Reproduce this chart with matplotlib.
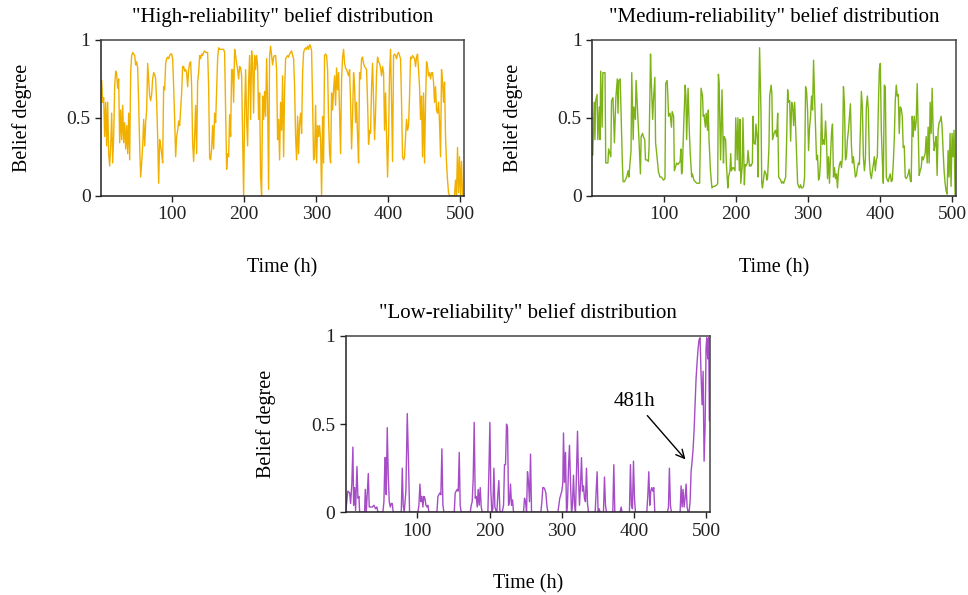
import numpy as np
import matplotlib
matplotlib.use("Agg")
import matplotlib.pyplot as plt

plt.rcParams['font.family'] = ['Liberation Serif', 'DejaVu Serif']

# "High-reliability" belief degree, read every ~1.4 h from the chart
high_belief = [
    0.74, 0.60, 0.63, 0.38, 0.60, 0.32, 0.60, 0.27, 0.19, 0.32, 0.53, 0.21, 0.38, 0.70, 0.80, 0.78,
    0.69, 0.75, 0.34, 0.55, 0.36, 0.58, 0.34, 0.47, 0.30, 0.45, 0.27, 0.53, 0.23, 0.79, 0.90, 0.92,
    0.91, 0.90, 0.84, 0.86, 0.82, 0.60, 0.32, 0.12, 0.21, 0.32, 0.49, 0.32, 0.47, 0.55, 0.85, 0.75,
    0.64, 0.61, 0.65, 0.75, 0.79, 0.78, 0.75, 0.60, 0.38, 0.08, 0.36, 0.32, 0.27, 0.21, 0.70, 0.68,
    0.85, 0.88, 0.89, 0.88, 0.90, 0.91, 0.91, 0.88, 0.70, 0.49, 0.25, 0.38, 0.42, 0.48, 0.45, 0.55,
    0.66, 0.83, 0.83, 0.80, 0.81, 0.79, 0.70, 0.81, 0.85, 0.86,
    0.70, 0.34, 0.22, 0.38, 0.58, 0.27, 0.73, 0.79, 0.90, 0.88, 0.91, 0.90, 0.92, 0.93, 0.92, 0.92,
    0.92, 0.70, 0.24, 0.23, 0.30, 0.45, 0.30, 0.53, 0.47, 0.68, 0.88, 0.95, 0.94, 0.94, 0.94, 0.94,
    0.94, 0.92, 0.53, 0.17, 0.27, 0.25, 0.52, 0.38, 0.81, 0.81, 0.60, 0.94, 0.90, 0.85, 0.81, 0.75,
    0.83, 0.82, 0.77, 0.38, 0.00, 0.53, 0.81, 0.49, 0.32, 0.73, 0.90, 0.49, 0.93, 0.85, 0.53, 0.90,
    0.81, 0.90, 0.83, 0.49, 0.66, 0.12, 0.00, 0.64, 0.49, 0.67, 0.51, 0.88, 0.60, 0.04, 0.90, 0.96,
    0.90, 0.84, 0.89, 0.90, 0.90, 0.81, 0.36, 0.49, 0.23, 0.60, 0.42,
    0.77, 0.25, 0.68, 0.88, 0.89, 0.90, 0.89, 0.91, 0.92, 0.93, 0.90, 0.88, 0.70, 0.38, 0.23, 0.51,
    0.27, 0.47, 0.53, 0.40, 0.79, 0.92, 0.94, 0.95, 0.94, 0.96, 0.94, 0.97, 0.96, 0.93, 0.60, 0.23,
    0.25, 0.58, 0.21, 0.45, 0.38, 0.45, 0.36, 0.00, 0.51, 0.21, 0.90, 0.91, 0.90, 0.81, 0.49, 0.27,
    0.21, 0.66, 0.55, 0.68, 0.77, 0.58, 0.82, 0.68, 0.79, 0.53, 0.27, 0.75, 0.89, 0.94, 0.85, 0.82,
    0.81, 0.79, 0.77, 0.81, 0.60, 0.30, 0.51, 0.79, 0.70, 0.47, 0.60, 0.38, 0.21, 0.79, 0.75, 0.88,
    0.89, 0.85, 0.83, 0.82, 0.81, 0.60, 0.33, 0.42, 0.40, 0.70, 0.85,
    0.60, 0.36, 0.53, 0.79, 0.89, 0.86, 0.85, 0.82, 0.77, 0.83, 0.79, 0.42, 0.66, 0.40, 0.12, 0.38,
    0.79, 0.94, 0.60, 0.22, 0.90, 0.91, 0.90, 0.88, 0.91, 0.92, 0.90, 0.88, 0.60, 0.25, 0.23, 0.25,
    0.38, 0.49, 0.42, 0.45, 0.64, 0.89, 0.88, 0.90, 0.89, 0.88, 0.83, 0.89, 0.91, 0.81, 0.70, 0.49,
    0.64, 0.25, 0.66, 0.21, 0.60, 0.86, 0.83, 0.77, 0.79, 0.75, 0.79, 0.79, 0.73, 0.60, 0.70, 0.55,
    0.53, 0.60, 0.47, 0.25, 0.81, 0.73, 0.60, 0.73, 0.38, 0.21, 0.10, 0.02, 0.00, 0.00, 0.00, 0.00,
    0.00, 0.00, 0.10, 0.00, 0.31, 0.02, 0.25, 0.00, 0.22, 0.00,
]

# "Medium-reliability": first part with hours, second part read at even steps
medium_hours_a = [
    1, 2, 4, 5, 6, 8, 9, 11, 12, 13, 15, 16, 19, 20, 23, 24, 27, 28, 30, 32,
    34, 36, 37, 38, 40, 42, 43, 44, 46, 49, 51, 52, 55, 56, 58, 59, 61, 62, 64, 65,
    66, 68, 69, 71, 72, 74, 75, 77, 79, 80, 82, 83, 85, 86, 88, 89, 91, 93, 94, 95,
    97, 100, 102, 103, 105, 106, 107, 109, 111, 112, 114, 115, 117, 118, 120, 123, 124, 125, 126, 128,
    130, 131, 132, 134, 136, 137, 139, 140, 142, 144, 146, 148, 150, 152, 154, 155, 156, 158, 159, 161,
    162, 163, 165, 167, 169, 171, 174, 175, 176, 177, 179, 180, 181, 183, 184, 186, 187, 189, 190, 192,
    193, 194, 196, 197, 199, 200, 202, 203, 205, 206, 207, 209, 210, 212, 213, 214, 216, 217, 219, 220,
    221, 223, 224, 225, 227, 228, 230, 231, 232, 233, 235, 236, 237, 239, 240, 242, 243, 244, 246, 247,
    249, 250, 251, 253, 255,
]
medium_belief_a = [
    0.27, 0.26, 0.60, 0.36, 0.61, 0.65, 0.36, 0.57, 0.36, 0.80, 0.44, 0.79, 0.79, 0.21, 0.21, 0.30, 0.25, 0.61, 0.63, 0.34,
    0.63, 0.75, 0.53, 0.74, 0.75, 0.40, 0.21, 0.09, 0.09, 0.12, 0.16, 0.12, 0.29, 0.79, 0.36, 0.57, 0.49, 0.74, 0.55, 0.46,
    0.36, 0.14, 0.38, 0.40, 0.38, 0.36, 0.23, 0.23, 0.22, 0.31, 0.91, 0.74, 0.49, 0.61, 0.76, 0.34, 0.25, 0.15, 0.14, 0.12,
    0.12, 0.10, 0.11, 0.72, 0.74, 0.64, 0.51, 0.53, 0.44, 0.54, 0.51, 0.16, 0.19, 0.21, 0.20, 0.22, 0.30, 0.14, 0.16, 0.46,
    0.71, 0.64, 0.36, 0.69, 0.38, 0.27, 0.12, 0.14, 0.10, 0.09, 0.08, 0.08, 0.08, 0.69, 0.64, 0.51, 0.52, 0.44, 0.53, 0.42,
    0.55, 0.36, 0.16, 0.05, 0.06, 0.06, 0.07, 0.08, 0.78, 0.72, 0.23, 0.46, 0.68, 0.21, 0.38, 0.36, 0.21, 0.05, 0.12, 0.16,
    0.27, 0.16, 0.18, 0.18, 0.16, 0.50, 0.23, 0.50, 0.16, 0.49, 0.08, 0.19, 0.50, 0.07, 0.20, 0.19, 0.21, 0.29, 0.19, 0.20,
    0.19, 0.21, 0.51, 0.34, 0.33, 0.46, 0.36, 0.12, 0.64, 0.95, 0.53, 0.08, 0.05, 0.12, 0.16, 0.14, 0.10, 0.11, 0.31, 0.64,
    0.71, 0.66, 0.36, 0.40, 0.42,
]
medium_belief_b = [
    0.38, 0.53, 0.12, 0.11, 0.10, 0.08, 0.09, 0.08, 0.10, 0.12, 0.36, 0.68, 0.60, 0.61, 0.35, 0.60, 0.58, 0.45, 0.60, 0.44,
    0.25, 0.08, 0.06, 0.05, 0.07, 0.05, 0.05, 0.06, 0.12, 0.70, 0.67, 0.55, 0.29, 0.44, 0.51, 0.64, 0.55, 0.87, 0.64, 0.44,
    0.23, 0.26, 0.10, 0.12, 0.23, 0.59, 0.33, 0.36, 0.33, 0.48, 0.36, 0.11, 0.25, 0.08, 0.25, 0.40, 0.46, 0.12, 0.18, 0.11,
    0.14, 0.05, 0.16, 0.20, 0.22, 0.18, 0.25, 0.70, 0.59, 0.23, 0.25, 0.36, 0.42, 0.51, 0.59, 0.32, 0.21, 0.25, 0.18, 0.12,
    0.13, 0.18, 0.21, 0.20, 0.42, 0.67, 0.57, 0.25, 0.16, 0.23, 0.57, 0.64, 0.55, 0.23, 0.14, 0.11, 0.16, 0.20, 0.25, 0.16,
    0.23, 0.25, 0.56, 0.81, 0.85, 0.42, 0.23, 0.08, 0.71, 0.70, 0.12, 0.10, 0.09, 0.12, 0.14, 0.09, 0.10, 0.21, 0.36, 0.61,
    0.71, 0.64, 0.65, 0.40, 0.57, 0.56, 0.51, 0.31, 0.32, 0.12, 0.11, 0.12, 0.14, 0.17, 0.10, 0.09, 0.51, 0.38, 0.51, 0.42,
    0.48, 0.72, 0.42, 0.13, 0.16, 0.18, 0.25, 0.23, 0.25, 0.27, 0.38, 0.21, 0.44, 0.21, 0.60, 0.40, 0.69, 0.42, 0.29, 0.33,
    0.38, 0.13, 0.42, 0.47, 0.48, 0.51, 0.44, 0.29, 0.16, 0.08, 0.03, 0.01, 0.29, 0.12, 0.40, 0.06, 0.40, 0.25, 0.42, 0.01,
]

# "Low-reliability": mostly zero with short bursts
low_hours = [
    1, 4, 6.5, 7.8, 9.5, 11, 12, 13.4, 14.7, 16.6, 18, 19.4, 20.3, 27.2, 28.1, 29.5, 32.3, 33.6, 35, 37.8,
    40.1, 42.4, 44.2, 45.6, 52.5, 53.9, 55.3, 56.2, 57.1, 58.5, 59.9, 61.3, 62.7, 64.1, 65.4, 66.8, 77.9, 79.3, 80.6, 82,
    84.3, 86.2, 88, 89.4, 100.9, 102.3, 103.7, 105.1, 106.5, 107.8, 109.2, 110.6, 112, 113.4, 114.7, 116.1, 127.2, 128.6, 130, 131.3,
    132.7, 134.1, 135.5, 136.9, 151.2, 152.5, 153.9, 155.3, 156.7, 158.1, 159.4, 160.8, 173.3, 174.7, 176, 177.4, 178.8, 180.2, 181.6, 183,
    184.3, 185.7, 187.1, 188.5, 189.9, 197.7, 199.1, 200.5, 201.8, 203.2, 204.6, 206, 207.4, 208.8, 210.1, 211.5, 212.9, 214.3, 215.7, 217.5,
    219.4, 220.7, 222.1, 223.5, 224.9, 226.3, 227.6, 229, 230.4, 231.8, 233.2, 247, 248.4, 249.8, 251.2, 252.5, 253.9, 255.3, 256.7, 258.1,
    271, 272.4, 273.7, 275.1, 276.5, 277.9, 279.3, 280.6, 294.5, 295.9, 297.2, 298.6, 300, 301.4, 302.3, 303.7, 305.1, 306.5, 307.8, 309.2,
    310.6, 312, 313.4, 314.7, 316.1, 317.5, 318.9, 320.3, 321.7, 323, 324.4, 325.8, 327.2, 328.6, 330, 331.3, 332.7, 334.1, 335.5, 336.9,
    346.1, 347.5, 348.8, 350.2, 351.6, 353, 357.6, 359, 360.4, 361.8, 370.5, 371.9, 373.3, 380.6, 382, 383.4, 393.5, 394.9, 396.3, 397.7,
    399.1, 400.5, 401.8, 417.5, 418.9, 420.3, 421.7, 423, 424.4, 425.8, 427.2, 428.6, 446.1, 447.5, 448.8, 450.2, 451.6, 463.6, 465, 466.4,
    467.7, 469.1, 470.5, 471.9, 473.3, 474.7, 476, 477.4, 478.8, 480.2, 481.6, 483, 484.3, 485.7, 487.1, 488.5, 489.9, 491.2, 492.6, 494,
    495.4, 496.8, 498.2, 499.5, 500.5, 501.8, 503.2, 504.1,
]
low_belief = [
    0, 0.12, 0.11, 0.05, 0.16, 0.37, 0.04, 0.14, 0.01, 0.26, 0.08, 0.09, 0, 0, 0.13, 0, 0.22, 0.03, 0.03, 0.03,
    0.04, 0.02, 0.03, 0, 0, 0.06, 0.31, 0.31, 0.10, 0.48, 0.21, 0.06, 0.03, 0.05, 0.05, 0, 0, 0.25, 0.04, 0,
    0.12, 0.56, 0.27, 0, 0, 0.04, 0.16, 0.06, 0.09, 0.03, 0.09, 0.08, 0.04, 0.03, 0.04, 0, 0, 0.09, 0.10, 0.11,
    0.10, 0.36, 0.04, 0, 0, 0.11, 0.12, 0.13, 0.12, 0.34, 0.04, 0, 0, 0.04, 0.06, 0.19, 0.51, 0.08, 0.09, 0.03,
    0.13, 0.04, 0.14, 0.03, 0, 0, 0.23, 0.51, 0.12, 0, 0.02, 0.25, 0.03, 0.01, 0, 0.10, 0.18, 0.01, 0, 0,
    0.04, 0.27, 0.27, 0.50, 0.48, 0.04, 0.06, 0.16, 0.04, 0.07, 0, 0, 0.08, 0.06, 0, 0.23, 0.17, 0.06, 0.33, 0,
    0, 0.06, 0.14, 0.14, 0.13, 0.11, 0.04, 0, 0, 0.04, 0.08, 0.10, 0.12, 0.17, 0.45, 0.17, 0.34, 0, 0.04, 0.25,
    0.38, 0.17, 0, 0.04, 0.21, 0.05, 0, 0.23, 0.46, 0.21, 0.04, 0.15, 0.31, 0.12, 0.15, 0.08, 0.06, 0.25, 0.05, 0,
    0, 0.12, 0.23, 0, 0.02, 0, 0, 0.20, 0.04, 0, 0, 0.27, 0, 0, 0.03, 0, 0, 0.27, 0.04, 0.02,
    0.29, 0.08, 0, 0, 0.09, 0.23, 0.04, 0.12, 0.14, 0.12, 0.14, 0, 0, 0.03, 0.25, 0.04, 0, 0, 0.15, 0.03,
    0.13, 0.03, 0.08, 0.16, 0.03, 0, 0, 0.06, 0.23, 0.29, 0.36, 0.47, 0.61, 0.76, 0.85, 0.93, 0.98, 0.99, 0.78, 0.61,
    0.80, 0.29, 0.49, 0.93, 0.99, 0.87, 0.99, 0.52,
]

x_ticks = [100, 200, 300, 400, 500]
y_ticks = [0, 0.5, 1]
y_tick_labels = ['0', '0.5', '1']

high_hours = np.linspace(2, 503, len(high_belief))
medium_hours = np.concatenate([medium_hours_a[:len(medium_belief_a)],
                               np.linspace(256.7, 503.7, len(medium_belief_b))])
medium_belief = np.concatenate([medium_belief_a[:len(medium_hours_a)], medium_belief_b])
n_low = min(len(low_hours), len(low_belief))

fig = plt.figure(figsize=(9.68, 5.95), dpi=100)
ax1 = fig.add_axes([0.1043, 0.6711, 0.375, 0.2617])
ax2 = fig.add_axes([0.6116, 0.6711, 0.376, 0.2617])
ax3 = fig.add_axes([0.3571, 0.139, 0.3764, 0.2963])

panels = [
    (ax1, high_hours, high_belief, '#F1B000', '"High-reliability" belief distribution'),
    (ax2, medium_hours, medium_belief, '#7DB317', '"Medium-reliability" belief distribution'),
    (ax3, low_hours[:n_low], low_belief[:n_low], '#A54CC6', '"Low-reliability" belief distribution'),
]

for ax, t, b, color, title in panels:
    ax.plot(t, b, color=color, lw=1.0)
    ax.set_xlim(1, 505)
    ax.set_ylim(0, 1)
    ax.set_xticks(x_ticks)
    ax.set_yticks(y_ticks)
    ax.set_yticklabels(y_tick_labels)
    ax.tick_params(direction='out', length=4, width=1, labelsize=14, colors='#222222')
    for s in ax.spines.values():
        s.set_linewidth(1.1)
        s.set_color('#444444')
    ax.spines['left'].set_color('#222222')
    ax.spines['bottom'].set_color('#222222')
    ax.set_title(title, fontsize=15, pad=13)
    ax.set_xlabel('Time (h)', fontsize=14.5, labelpad=25)
    ax.set_ylabel('Belief degree', fontsize=14.5, labelpad=25)

ax3.annotate('481h', xy=(471, 0.30), xytext=(401, 0.63), fontsize=15,
             ha='center', va='center',
             arrowprops=dict(arrowstyle='->', color='black', lw=1.0,
                             shrinkA=2, shrinkB=0))

fig.savefig('out.png', dpi=100)
